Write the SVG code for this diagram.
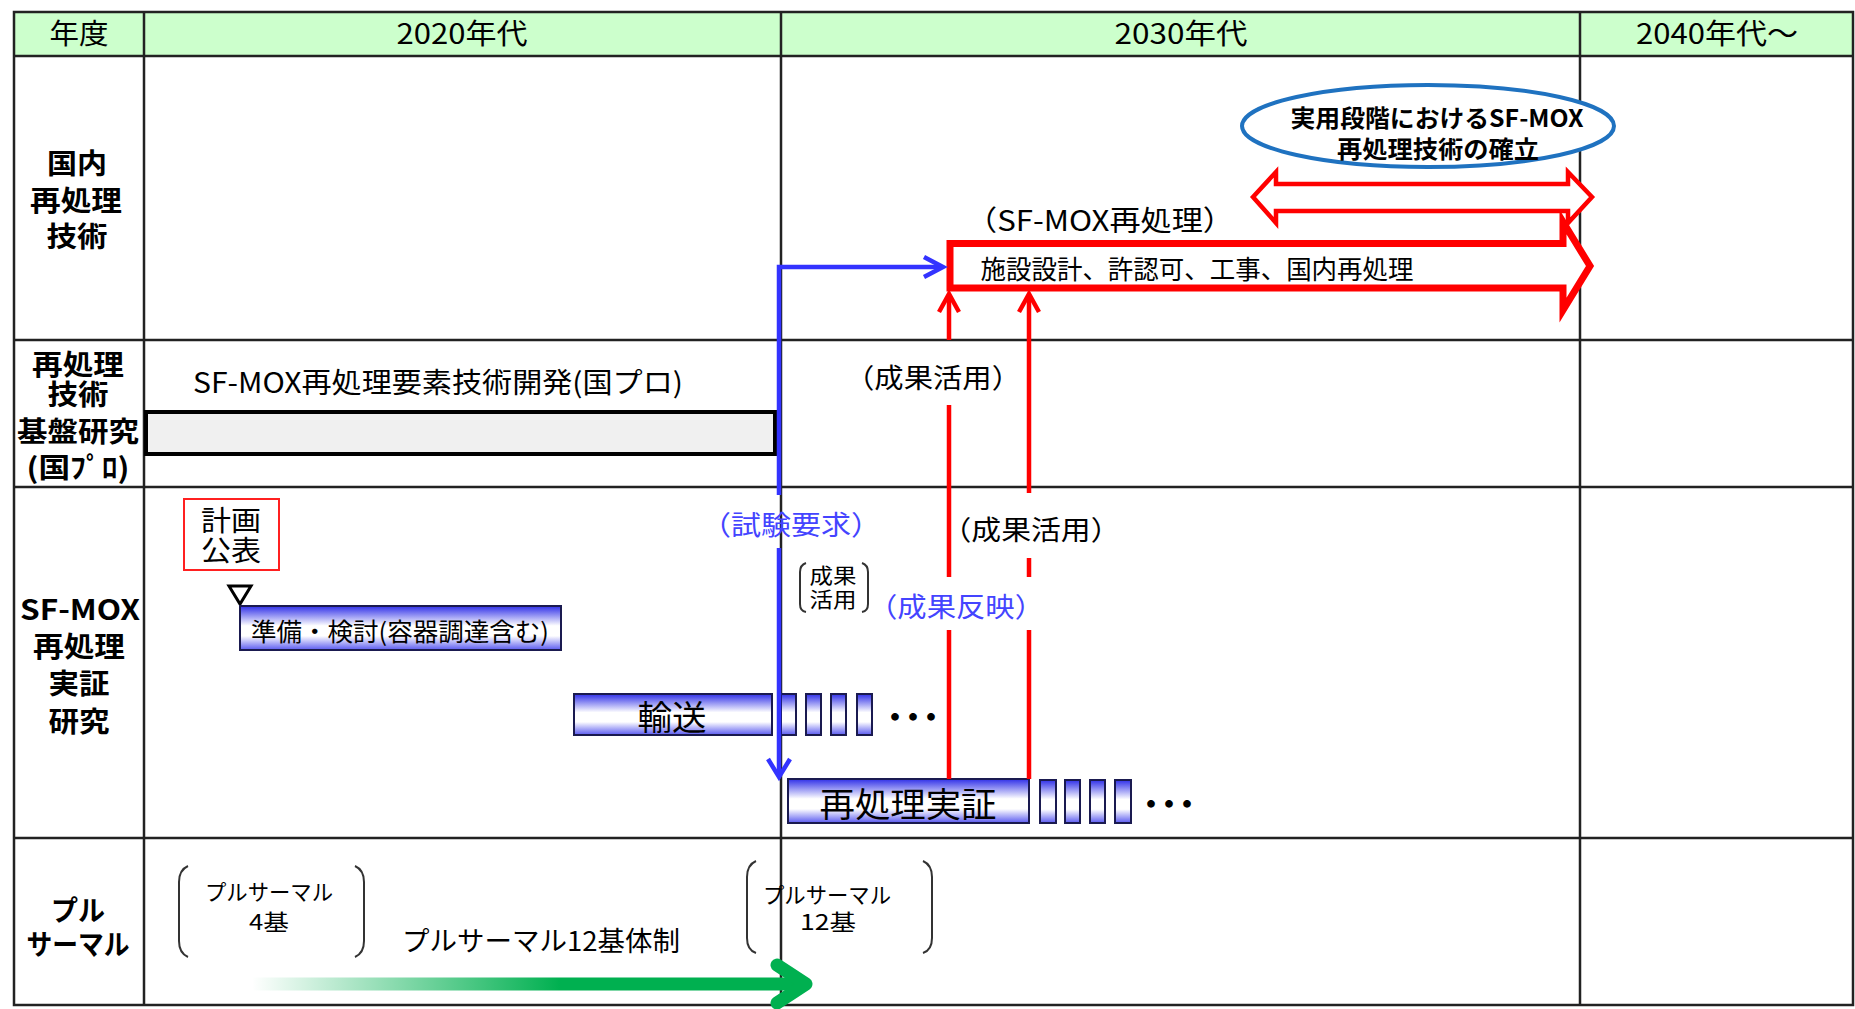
<svg xmlns="http://www.w3.org/2000/svg" width="1855" height="1009" viewBox="0 0 1855 1009">
<defs>
<style>
text{font-family:"Noto Sans CJK JP","Noto Sans",sans-serif;fill:#000;dominant-baseline:central;text-anchor:middle}
.lbl{font-weight:bold;font-size:28px}
.hd{font-size:28px}
.grid{stroke:#222;stroke-width:2.5;fill:none}
.bar{fill:url(#bg);stroke:#1a1a50;stroke-width:2}
.blue{stroke:#3333FF;stroke-width:4.5;fill:none;stroke-linecap:butt;stroke-linejoin:miter}
.red{stroke:#FF0000;stroke-width:4.5;fill:none}
.brk{stroke:#333;stroke-width:2;fill:none}
.bt{fill:#4444FF}
.dots{font-size:30px;font-weight:bold}
</style>
<linearGradient id="bg" x1="0" y1="0" x2="0" y2="1">
<stop offset="0" stop-color="#3030E8"/>
<stop offset="0.45" stop-color="#FFFFFF"/>
<stop offset="0.68" stop-color="#FFFFFF"/>
<stop offset="1" stop-color="#5A5AF0"/>
</linearGradient>
<linearGradient id="gg" x1="252" y1="0" x2="560" y2="0" gradientUnits="userSpaceOnUse">
<stop offset="0" stop-color="#00B050" stop-opacity="0"/>
<stop offset="1" stop-color="#00B050" stop-opacity="1"/>
</linearGradient>
</defs>
<rect width="1855" height="1009" fill="#fff"/>

<g id="table">
<rect x="14" y="12" width="1839" height="44" fill="#CCFFCC"/>
<rect x="14" y="12" width="1839" height="993" class="grid"/>
<line x1="14" y1="56" x2="1853" y2="56" class="grid" stroke-width="3"/>
<line x1="14" y1="340" x2="1853" y2="340" class="grid"/>
<line x1="14" y1="487" x2="1853" y2="487" class="grid"/>
<line x1="14" y1="838" x2="1853" y2="838" class="grid"/>
<line x1="144" y1="12" x2="144" y2="1005" class="grid"/>
<line x1="781" y1="12" x2="781" y2="1005" class="grid"/>
<line x1="1580" y1="12" x2="1580" y2="1005" class="grid"/>
<text class="hd" x="79" y="32" textLength="59" lengthAdjust="spacingAndGlyphs">年度</text>
<text class="hd" x="462" y="32" textLength="131" lengthAdjust="spacingAndGlyphs">2020年代</text>
<text class="hd" x="1181" y="32" textLength="133" lengthAdjust="spacingAndGlyphs">2030年代</text>
<text class="hd" x="1717" y="32" textLength="162" lengthAdjust="spacingAndGlyphs">2040年代～</text>
</g>

<g id="row-labels">
<text class="lbl" x="77" y="162" textLength="60" lengthAdjust="spacingAndGlyphs">国内</text>
<text class="lbl" x="76" y="199" textLength="92" lengthAdjust="spacingAndGlyphs">再処理</text>
<text class="lbl" x="77" y="235" textLength="61" lengthAdjust="spacingAndGlyphs">技術</text>
<text class="lbl" x="78" y="363" textLength="92" lengthAdjust="spacingAndGlyphs">再処理</text>
<text class="lbl" x="78" y="393" textLength="61" lengthAdjust="spacingAndGlyphs">技術</text>
<text class="lbl" x="78" y="430" textLength="122" lengthAdjust="spacingAndGlyphs">基盤研究</text>
<text class="lbl" x="78" y="466" textLength="103" lengthAdjust="spacingAndGlyphs">(国ﾌﾟﾛ)</text>
<text class="lbl" x="80" y="608" textLength="120" lengthAdjust="spacingAndGlyphs">SF-MOX</text>
<text class="lbl" x="79" y="645" textLength="92" lengthAdjust="spacingAndGlyphs">再処理</text>
<text class="lbl" x="79" y="682" textLength="61" lengthAdjust="spacingAndGlyphs">実証</text>
<text class="lbl" x="79" y="720" textLength="61" lengthAdjust="spacingAndGlyphs">研究</text>
<text class="lbl" x="78" y="909" textLength="54" lengthAdjust="spacingAndGlyphs">プル</text>
<text class="lbl" x="78" y="943" textLength="103" lengthAdjust="spacingAndGlyphs">サーマル</text>
</g>

<g id="goal">
<ellipse cx="1428" cy="126" rx="186" ry="41" fill="#fff" stroke="#1F72C0" stroke-width="4"/>
<text x="1437" y="116" font-size="24" font-weight="bold" textLength="293" lengthAdjust="spacingAndGlyphs">実用段階におけるSF-MOX</text>
<text x="1438" y="147" font-size="24" font-weight="bold" textLength="202" lengthAdjust="spacingAndGlyphs">再処理技術の確立</text>
</g>

<g id="practical-arrow">
<polygon points="1253,197 1276,172 1276,184 1568,184 1568,172 1592,197 1568,223 1568,211 1276,211 1276,223" fill="#fff" stroke="#FF0000" stroke-width="4.5"/>
</g>

<g id="domestic-reprocessing">
<text x="1100" y="219" font-size="28" textLength="268" lengthAdjust="spacingAndGlyphs">（SF-MOX再処理）</text>
<polygon points="950,243.5 1563,243.5 1563,222 1590,266 1563,310 1563,288 950,288" fill="#fff" stroke="#FF0000" stroke-width="7"/>
<text x="1197" y="267" font-size="26" textLength="433" lengthAdjust="spacingAndGlyphs">施設設計、許認可、工事、国内再処理</text>
</g>

<g id="element-tech">
<text x="438" y="381" font-size="28" textLength="490" lengthAdjust="spacingAndGlyphs">SF-MOX再処理要素技術開発(国プロ)</text>
<rect x="146" y="412" width="629" height="42" fill="#F0F0F0" stroke="#000" stroke-width="4"/>
</g>

<g id="plan-announce">
<rect x="184" y="499" width="95" height="71" fill="#fff" stroke="#FF2020" stroke-width="2"/>
<text x="231" y="519" font-size="28" textLength="60" lengthAdjust="spacingAndGlyphs">計画</text>
<text x="231" y="549" font-size="28" textLength="60" lengthAdjust="spacingAndGlyphs">公表</text>
<polygon points="229,586 251,586 240,604" fill="#fff" stroke="#000" stroke-width="3"/>
</g>

<g id="prep">
<rect x="240" y="606" width="321" height="44" class="bar"/>
<text x="400" y="630" font-size="25" textLength="298" lengthAdjust="spacingAndGlyphs">準備・検討(容器調達含む)</text>
</g>

<g id="transport">
<rect x="574" y="694" width="198" height="41" class="bar"/>
<text x="672" y="715" font-size="34" textLength="69" lengthAdjust="spacingAndGlyphs">輸送</text>
<rect x="781" y="694" width="15" height="41" class="bar"/>
<rect x="806" y="694" width="15" height="41" class="bar"/>
<rect x="831" y="694" width="15" height="41" class="bar"/>
<rect x="857" y="694" width="15" height="41" class="bar"/>
<text class="dots" x="913" y="715" textLength="66">・・・</text>
</g>

<g id="demo">
<rect x="788" y="779" width="241" height="44" class="bar"/>
<text x="908" y="802" font-size="34" textLength="177" lengthAdjust="spacingAndGlyphs">再処理実証</text>
<rect x="1040" y="780" width="16" height="43" class="bar"/>
<rect x="1065" y="780" width="15" height="43" class="bar"/>
<rect x="1090" y="780" width="15" height="43" class="bar"/>
<rect x="1115" y="780" width="16" height="43" class="bar"/>
<text class="dots" x="1169" y="802" textLength="66">・・・</text>
</g>

<g id="pluthermal">
<path class="brk" d="M188 866 Q179 870 179 882 L179 941 Q179 953 188 957"/>
<path class="brk" d="M355 866 Q364 870 364 882 L364 941 Q364 953 355 957"/>
<text x="269" y="890" font-size="22" textLength="128" lengthAdjust="spacingAndGlyphs">プルサーマル</text>
<text x="269" y="920" font-size="22" textLength="40" lengthAdjust="spacingAndGlyphs">4基</text>
<text x="541" y="939" font-size="27" textLength="278" lengthAdjust="spacingAndGlyphs">プルサーマル12基体制</text>
<path class="brk" d="M756 861 Q747 865 747 877 L747 938 Q747 950 756 953"/>
<path class="brk" d="M923 861 Q932 865 932 877 L932 938 Q932 950 923 953"/>
<text x="827" y="893" font-size="22" textLength="128" lengthAdjust="spacingAndGlyphs">プルサーマル</text>
<text x="828" y="920" font-size="22" textLength="56" lengthAdjust="spacingAndGlyphs">12基</text>
<rect x="252" y="977.5" width="550" height="13" fill="url(#gg)"/>
<polyline points="777,965 806,984 777,1003" fill="none" stroke="#00B050" stroke-width="13" stroke-linecap="round" stroke-linejoin="round"/>
</g>

<g id="connectors">
<path class="blue" d="M779 495 L779 267 L942 267"/>
<path class="blue" d="M924 257 L943 267 L924 277"/>
<path class="blue" d="M779 548 L779 775"/>
<path class="blue" d="M768 759 L779 777 L790 759"/>
<text class="bt" x="791" y="523" font-size="27" textLength="180" lengthAdjust="spacingAndGlyphs">（試験要求）</text>

<path class="red" d="M949 296 L949 340 M949 405 L949 577 M949 630 L949 779"/>
<path class="red" d="M939 312 L949 294 L959 312"/>
<path class="red" d="M1029 296 L1029 493 M1029 558 L1029 577 M1029 630 L1029 779"/>
<path class="red" d="M1019 312 L1029 294 L1039 312"/>
<text x="933" y="376" font-size="27" textLength="176" lengthAdjust="spacingAndGlyphs">（成果活用）</text>
<text x="1031" y="528" font-size="27" textLength="179" lengthAdjust="spacingAndGlyphs">（成果活用）</text>
<text class="bt" x="956" y="605" font-size="27" textLength="176" lengthAdjust="spacingAndGlyphs">（成果反映）</text>
<path class="brk" stroke-width="1.5" d="M806 563 Q800 565 800 572 L800 604 Q800 611 806 612"/>
<path class="brk" stroke-width="1.5" d="M862 563 Q868 565 868 572 L868 604 Q868 611 862 612"/>
<text x="833" y="574" font-size="21" textLength="47" lengthAdjust="spacingAndGlyphs">成果</text>
<text x="833" y="598" font-size="21" textLength="47" lengthAdjust="spacingAndGlyphs">活用</text>
</g>
</svg>
